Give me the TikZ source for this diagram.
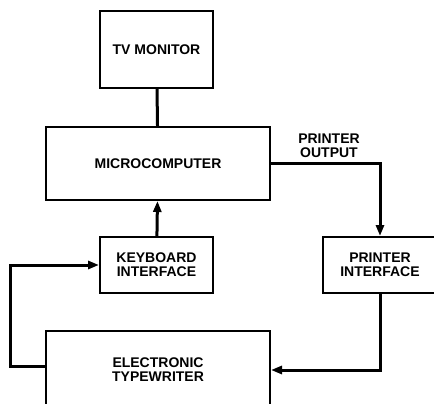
\documentclass[tikz,border=0pt]{standalone}
\usepackage{fontspec}
\setmainfont{Liberation Sans}
\usepackage{tikz}
\usetikzlibrary{arrows.meta, positioning}

\begin{document}
\begin{tikzpicture}[
    x=1pt, y=-1pt,
    block/.style={draw, line width=2pt, align=center, inner sep=0pt,
                  font=\fontsize{14}{14}\selectfont\bfseries},
    lbl/.style={align=center, font=\fontsize{14}{14}\selectfont\bfseries},
    link/.style={line width=3pt},
    >={Triangle[length=11pt, width=8pt]}
  ]
  \useasboundingbox (0,0) rectangle (434,404);
  \clip (0,0) rectangle (434,404);

  % nodes
  \node[block, minimum width=113pt, minimum height=77pt] (tv) at (156.5,49.5) {TV MONITOR};
  \node[block, minimum width=224pt, minimum height=73pt] (micro) at (158,163.5) {MICROCOMPUTER};
  \node[block, minimum width=113pt, minimum height=56pt] (kbd) at (156.5,265) {KEYBOARD\\INTERFACE};
  \node[block, minimum width=115pt, minimum height=56pt] (prn) at (380,265) {PRINTER\\INTERFACE};
  \node[block, minimum width=224pt, minimum height=78pt] (typ) at (158,370) {ELECTRONIC\\TYPEWRITER};
  \coordinate (loop) at (10,300);

  % labels
  \node[lbl] (out) at (329,146) {PRINTER\\OUTPUT};

  % arcs
  \draw[link] (tv) -- (micro);
  \draw[link, ->] (kbd) -- (micro);
  \draw[link, ->] (micro.east) -| (prn.north);
  \draw[link, ->] (prn.south) |- (typ.east);
  \draw[link, ->] ([yshift=4pt]typ.west) -| (loop) |- (kbd.west);
\end{tikzpicture}
\end{document}
